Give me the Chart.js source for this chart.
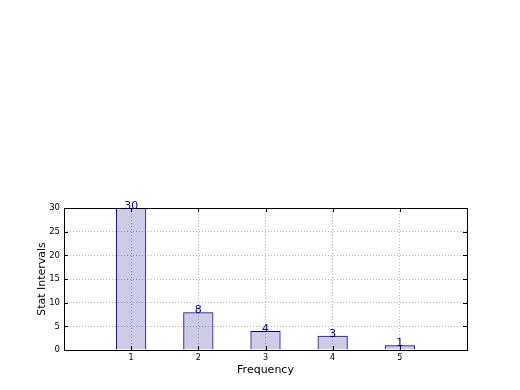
<!DOCTYPE html>
<html>
<head>
<meta charset="utf-8">
<script src="https://cdn.jsdelivr.net/npm/chart.js@4/dist/chart.umd.min.js"></script>
<style>
  html, body { margin: 0; padding: 0; background: #fff; }
  #wrap { width: 520px; height: 390px; }
</style>
</head>
<body>
<div id="wrap"><canvas id="grafico" width="520" height="390"></canvas></div>
<script>
// datos del gráfico
const frecuencias = [1, 2, 3, 4, 5];
const intervalos = [30, 8, 4, 3, 1];
const xTicks = [0, 1, 2, 3, 4, 5, 6];
const yTicks = [0, 5, 10, 15, 20, 25, 30];

const navy = "#000080";
const fuente = "'DejaVu Sans', sans-serif";

// marco y marcas de ticks hacia adentro (estilo matplotlib)
const marcoPlugin = {
  id: "marco",
  afterDraw(chart) {
    const { ctx, chartArea: a, scales } = chart;
    ctx.save();
    ctx.strokeStyle = "#000";
    ctx.lineWidth = 1;
    ctx.beginPath();
    scales.x.ticks.forEach(t => {
      const px = Math.round(scales.x.getPixelForValue(t.value)) + 0.5;
      ctx.moveTo(px, a.bottom); ctx.lineTo(px, a.bottom - 4);
      ctx.moveTo(px, a.top); ctx.lineTo(px, a.top + 4);
    });
    scales.y.ticks.forEach(t => {
      const py = Math.round(scales.y.getPixelForValue(t.value)) + 0.5;
      ctx.moveTo(a.left, py); ctx.lineTo(a.left + 4, py);
      ctx.moveTo(a.right, py); ctx.lineTo(a.right - 4, py);
    });
    ctx.stroke();
    ctx.strokeRect(Math.round(a.left) + 0.5, Math.round(a.top) + 0.5,
      Math.round(a.right - a.left), Math.round(a.bottom - a.top));

    // etiquetas de valor sobre cada barra
    const meta = chart.getDatasetMeta(0);
    ctx.fillStyle = navy;
    ctx.font = "11px " + fuente;
    ctx.textAlign = "center";
    ctx.textBaseline = "alphabetic";
    meta.data.forEach((bar, i) => {
      ctx.fillText(String(intervalos[i]), bar.x, bar.y + 1);
    });
    ctx.restore();
  }
};

const ctx = document.getElementById("grafico").getContext("2d");

new Chart(ctx, {
  type: "bar",
  data: {
    datasets: [{
      data: frecuencias.map((f, i) => ({ x: f, y: intervalos[i] })),
      backgroundColor: "rgba(0,0,128,0.2)",
      borderColor: navy,
      borderWidth: 1,
      categoryPercentage: 1,
      barPercentage: 0.45
    }]
  },
  options: {
    responsive: false,
    animation: false,
    layout: { padding: { top: 208, right: 53, left: 36, bottom: 13 } },
    plugins: { legend: { display: false }, tooltip: { enabled: false } },
    scales: {
      x: {
        type: "linear",
        min: 0,
        max: 6,
        offset: false,
        z: 1,
        afterBuildTicks: s => { s.ticks = xTicks.map(v => ({ value: v })); },
        ticks: {
          color: "#000",
          font: { family: fuente, size: 8 },
          padding: 3,
          maxRotation: 0,
          autoSkip: false,
          callback: v => (v >= 1 && v <= 5 ? String(v) : "")
        },
        grid: { color: "#b4b4b4", drawTicks: false, offset: false },
        border: { display: false, dash: [1, 2] },
        title: {
          display: true,
          text: "Frequency",
          color: "#000",
          font: { family: fuente, size: 11 },
          padding: { top: 0, bottom: 0 }
        },
        afterFit: s => { s.height = 27; }
      },
      y: {
        min: 0,
        max: 30,
        z: 1,
        afterBuildTicks: s => { s.ticks = yTicks.map(v => ({ value: v })); },
        ticks: {
          color: "#000",
          font: { family: fuente, size: 8.5 },
          padding: 4
        },
        grid: { color: "#b4b4b4", drawTicks: false },
        border: { display: false, dash: [1, 2] },
        title: {
          display: true,
          text: "Stat Intervals",
          color: "#000",
          font: { family: fuente, size: 11 },
          padding: { top: 0, bottom: 0 }
        },
        afterFit: s => { s.width = 28; }
      }
    }
  },
  plugins: [marcoPlugin]
});
</script>
</body>
</html>
